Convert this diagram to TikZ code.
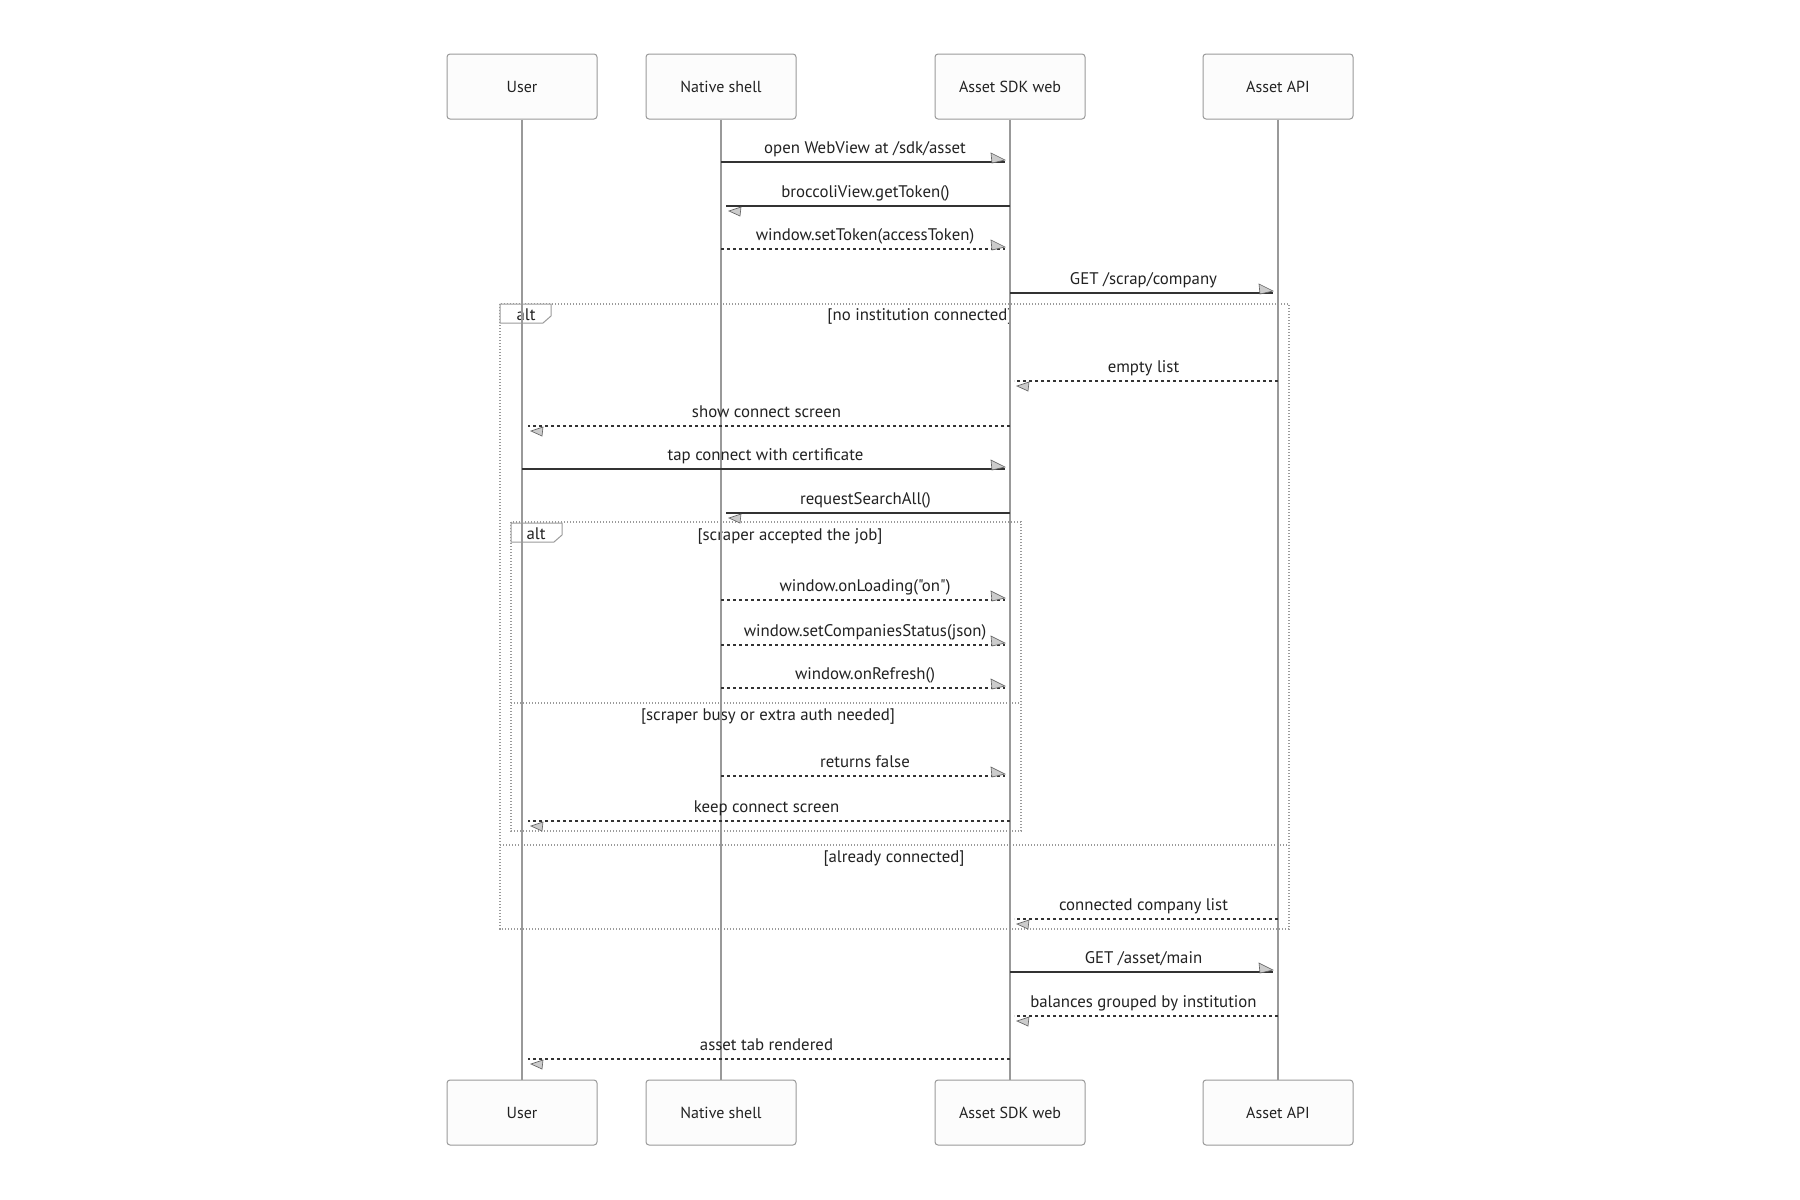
\documentclass[tikz,border=0pt]{standalone}
\usepackage{fontspec}
\setmainfont{PT Sans}[Ligatures=TeXOff]
\definecolor{boxline}{HTML}{9A9A9A}
\definecolor{boxfill}{HTML}{FCFCFC}
\definecolor{lifecol}{HTML}{999999}
\definecolor{msgcol}{HTML}{333333}
\definecolor{framecol}{HTML}{9A9A9A}
\definecolor{headfill}{HTML}{CCCCCC}
\definecolor{headline}{HTML}{666666}
\definecolor{txtcol}{HTML}{222222}
\newcommand\rmsg[6]{% name, y, x1, x2, style, label
  \coordinate (#1s) at (#3,#2);
  \coordinate (#1e) at (#4,#2);
  \draw[msgline,#5] (#1s) -- (#1e);
  \pic at (#1e) {rhead};
  \node[msglabel] (#1l) at ({(#3+#4+4)/2},#2-9) {#6};
}
\newcommand\lmsg[6]{% name, y, x1, x2, style, label
  \coordinate (#1s) at (#3,#2);
  \coordinate (#1e) at (#4,#2);
  \draw[msgline,#5] (#1s) -- (#1e);
  \pic at (#1e) {lhead};
  \node[msglabel] (#1l) at ({(#3+#4-5)/2},#2-9) {#6};
}
\begin{document}
\begin{tikzpicture}[x=0.75pt,y=-0.75pt,
  actor/.style={draw=boxline, fill=boxfill, rounded corners=2.25pt, minimum width=112.5pt,
    minimum height=48.75pt, line width=0.75pt, inner sep=0pt, text=txtcol,
    font=\fontsize{12}{14}\selectfont},
  lifeline/.style={draw=lifecol, line width=1.5pt},
  msgline/.style={draw=msgcol, line width=1.1pt},
  dsh/.style={dash pattern=on 2.25pt off 2.25pt},
  sld/.style={},
  msglabel/.style={anchor=base, inner sep=0pt, text=txtcol, font=\fontsize{12.6}{14}\selectfont},
  condlabel/.style={anchor=center, inner sep=0pt, text=txtcol, font=\fontsize{12.6}{14}\selectfont},
  framebox/.style={draw=framecol, line width=0.9pt, dash pattern=on 0.9pt off 1.35pt},
  tabshape/.style={draw=framecol, fill=white, line width=0.75pt},
  headstyle/.style={fill=headfill, draw=headline, line width=0.5pt},
  rhead/.pic={\filldraw[headstyle] (-14,-9) -- (0,-2) -- (-13,1) -- cycle;},
  lhead/.pic={\filldraw[headstyle] (3,5) -- (15,1) -- (14,10) -- cycle;}
]
\useasboundingbox (0,0) rectangle (1800,1200);
\fill[white] (0,0) rectangle (1800,1200);

% frames (drawn first)
\draw[framebox] (500,304) rectangle (1289,929);
\draw[framebox] (500,845) -- (1289,845);
\draw[tabshape] (500,304) -- (551,304) -- (551,316) -- (543,323) -- (500,323) -- cycle;
\node[condlabel] (altA) at (526,315) {alt};
\node[condlabel] (condA) at (920,316) {[no institution connected]};
\node[condlabel] (condC) at (894,859) {[already connected]};

\draw[framebox] (511,522) rectangle (1021,831);
\draw[framebox] (511,703) -- (1021,703);
\draw[tabshape] (511,523) -- (562,523) -- (562,535) -- (554,542) -- (511,542) -- cycle;
\node[condlabel] (altB) at (536,534) {alt};
\node[condlabel] (condB1) at (790,536) {[scraper accepted the job]};
\node[condlabel] (condB2) at (768,717) {[scraper busy or extra auth needed]};

% actors
\node[actor] (uT) at (522,86.5) {User};
\node[actor] (nT) at (721,86.5) {Native shell};
\node[actor] (sT) at (1010,86.5) {Asset SDK web};
\node[actor] (aT) at (1278,86.5) {Asset API};
\node[actor] (uB) at (522,1112.5) {User};
\node[actor] (nB) at (721,1112.5) {Native shell};
\node[actor] (sB) at (1010,1112.5) {Asset SDK web};
\node[actor] (aB) at (1278,1112.5) {Asset API};

\draw[lifeline] (uT.south) -- (uB.north);
\draw[lifeline] (nT.south) -- (nB.north);
\draw[lifeline] (sT.south) -- (sB.north);
\draw[lifeline] (aT.south) -- (aB.north);

% messages
\rmsg{m1}{162}{721}{1005}{sld}{open WebView at /sdk/asset}
\lmsg{m2}{206}{1010}{726}{sld}{broccoliView.getToken()}
\rmsg{m3}{249}{721}{1005}{dsh}{window.setToken(accessToken)}
\rmsg{m4}{293}{1010}{1273}{sld}{GET /scrap/company}
\lmsg{m5}{381}{1278}{1014}{dsh}{empty list}
\lmsg{m6}{426}{1010}{528}{dsh}{show connect screen}
\rmsg{m7}{469}{522}{1005}{sld}{tap connect with certificate}
\lmsg{m8}{513}{1010}{726}{sld}{requestSearchAll()}
\rmsg{m9}{600}{721}{1005}{dsh}{window.onLoading("on")}
\rmsg{m10}{645}{721}{1005}{dsh}{window.setCompaniesStatus(json)}
\rmsg{m11}{688}{721}{1005}{dsh}{window.onRefresh()}
\rmsg{m12}{776}{721}{1005}{dsh}{returns false}
\lmsg{m13}{821}{1010}{528}{dsh}{keep connect screen}
\lmsg{m14}{919}{1278}{1014}{dsh}{connected company list}
\rmsg{m15}{972}{1010}{1273}{sld}{GET /asset/main}
\lmsg{m16}{1016}{1278}{1014}{dsh}{balances grouped by institution}
\lmsg{m17}{1059}{1010}{528}{dsh}{asset tab rendered}
\end{tikzpicture}
\end{document}
